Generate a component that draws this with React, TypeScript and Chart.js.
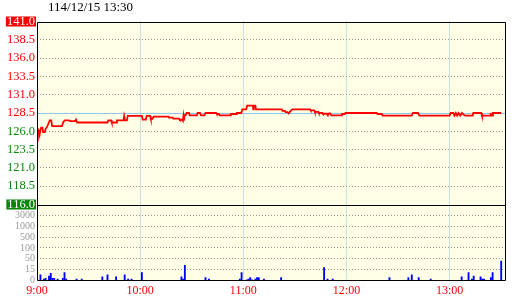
import React, { useEffect, useRef } from 'react';
import { Chart, registerables, LinearScale } from 'chart.js';

Chart.register(...registerables);

const TITLE = '114/12/15 13:30';
const FONT = '"Liberation Serif", "Times New Roman", serif';

const PRICE_MIN = 116;
const PRICE_MAX = 141;
const REF_PRICE = 128.5;
const PRICE_TICKS = [116, 118.5, 121, 123.5, 126, 128.5, 131, 133.5, 136, 138.5, 141];

const VOL_BREAKS = [0, 15, 50, 100, 500, 1000, 3000, 5000];
const VOL_TICKS = [0, 15, 50, 100, 500, 1000, 3000];
const VOL_TICK_LABELS = ['0', '15', '50', '100', '500', '1000', '3000'];

const TIME_MAX = 272.5;
const TIME_TICKS = [0, 60, 120, 180, 240];
const TIME_LABELS = ['9:00', '10:00', '11:00', '12:00', '13:00'];

// minutes after 9:00
const priceTimes = [
  0, 0.5, 1, 1.5, 2, 2.4, 3.2, 3.5, 4.5, 5, 5.8, 6.6, 7.4, 8.3, 8.8, 14.5, 15.2, 16.1, 18.6, 19.2,
  22.2, 22.7, 23.3, 41, 41.5, 43.1, 43.5, 46, 46.5, 50.3, 50.7, 51.2, 52.3, 52.8, 61, 61.5, 63.3, 63.8, 65.8, 66.2,
  67.2, 67.8, 76.5, 76.8, 79, 79.3, 82.6, 83, 84.4, 84.8, 85.2, 85.5, 85.9, 86.5, 87, 88.4, 88.8, 93, 93.4, 94.8,
  95.4, 97.4, 98, 104.2, 104.6, 105.8, 106.2, 112.3, 112.7, 115.8, 116.2, 118.8, 119.4, 121.7, 122.2, 125.6, 125.8, 126.1, 127, 127.4,
  142.4, 142.8, 144.2, 144.6, 145.6, 146.4, 147.4, 148.6, 158.8, 159.2, 161.3, 161.6, 163.6, 163.9, 166, 166.3, 168.6, 169.2, 169.8, 170.6,
  171.2, 177, 177.4, 179, 179.4, 197.6, 198, 200.6, 201, 218, 218.6, 221.6, 222.4, 240, 240.6, 242.2, 242.8, 243.6, 244.4, 245.2,
  246.2, 247.2, 248.2, 249.2, 253.4, 253.8, 258.4, 258.8, 263.6, 263.9, 264.2, 264.8, 265.2, 270,
];
const prices = [
  126.0, 125.5, 126.0, 125.5, 126.2, 126.5, 126.5, 125.9, 125.9, 126.3, 126.6, 127.0, 127.5, 127.5, 126.7, 126.7, 127.2, 127.5, 127.5, 127.4,
  127.4, 127.6, 127.2, 127.2, 127.5, 127.5, 127.2, 127.2, 127.5, 127.5, 128.1, 127.5, 127.5, 128.1, 128.1, 127.6, 127.6, 128.1, 128.1, 127.7,
  127.7, 128.0, 128.0, 127.86, 127.86, 127.72, 127.72, 127.58, 127.58, 127.45, 128.1, 127.45, 128.2, 128.2, 128.5, 128.5, 128.17, 128.17, 128.5, 128.5,
  128.17, 128.17, 128.5, 128.5, 128.36, 128.36, 128.17, 128.17, 128.36, 128.36, 128.5, 128.5, 129.0, 129.0, 129.5, 129.5, 129.0, 129.5, 129.5, 129.0,
  129.0, 128.8, 128.8, 128.62, 128.62, 128.45, 128.75, 129.0, 129.0, 128.85, 128.85, 128.65, 128.65, 128.5, 128.5, 128.4, 128.4, 128.17, 128.45, 128.45,
  128.17, 128.17, 128.36, 128.36, 128.5, 128.5, 128.36, 128.36, 128.15, 128.15, 128.5, 128.5, 128.15, 128.15, 128.5, 128.5, 128.15, 128.5, 128.15, 128.5,
  128.15, 128.5, 128.25, 128.15, 128.15, 128.5, 128.5, 128.15, 128.15, 128.5, 128.15, 128.15, 128.5, 128.5,
];

const volTimes = [
  0, 2, 4, 5, 7, 8, 9, 10, 12, 15, 16, 17, 23, 26, 38, 41, 46, 51, 53, 55,
  61, 84, 85, 86, 98, 100, 118, 119, 122, 123, 124, 125, 127, 128, 129, 132, 142, 167, 169, 172,
  205, 216, 218, 222, 229, 247, 251, 253, 254, 258, 259, 260, 264, 265, 270,
];
const volumes = [
  19, 8, 2, 3, 6, 10, 3, 3, 2, 3, 11, 2, 2, 2, 5, 8, 5, 8, 2, 2,
  11, 5, 2, 29, 4, 2, 2, 11, 1, 2, 4, 1, 2, 4, 4, 2, 4, 22, 2, 2,
  4, 4, 8, 4, 2, 5, 11, 2, 6, 5, 2, 2, 4, 11, 43,
];

const RED = '#ff0000';
const GREEN = '#0a860a';
const CREAM = '#ffffe6';

class BreakScale extends LinearScale {
  static id = 'breaks';
  static defaults = {};
  determineDataLimits() {
    this.min = VOL_BREAKS[0];
    this.max = VOL_BREAKS[VOL_BREAKS.length - 1];
  }
  buildTicks() {
    return VOL_TICKS.map((v) => ({ value: v }));
  }
  getPixelForValue(value: any) {
    if (value === null || value === undefined || isNaN(value)) return NaN;
    const n = VOL_BREAKS.length - 1;
    let i = 0;
    while (i < n - 1 && value > VOL_BREAKS[i + 1]) i++;
    let frac = (value - VOL_BREAKS[i]) / (VOL_BREAKS[i + 1] - VOL_BREAKS[i]);
    frac = Math.min(Math.max(frac, 0), 1);
    return (this as any).getPixelForDecimal((i + frac) / n);
  }
  getValueForPixel(pixel: number) {
    const n = VOL_BREAKS.length - 1;
    const d = (this as any).getDecimalForPixel(pixel) * n;
    const i = Math.min(Math.max(Math.floor(d), 0), n - 1);
    return VOL_BREAKS[i] + (d - i) * (VOL_BREAKS[i + 1] - VOL_BREAKS[i]);
  }
}
Chart.register(BreakScale as any);

const panelPlugin = {
  id: 'panels',
  beforeDraw(chart: any) {
    const { ctx, chartArea: a } = chart;
    ctx.save();
    ctx.fillStyle = '#ffffff';
    ctx.fillRect(0, 0, chart.width, chart.height);
    ctx.fillStyle = CREAM;
    ctx.fillRect(a.left, a.top, a.right - a.left, a.bottom - a.top);
    ctx.restore();
  },
  beforeDatasetsDraw(chart: any) {
    const { ctx, chartArea: a, scales } = chart;
    const y = Math.round(scales.y.getPixelForValue(REF_PRICE)) + 0.5;
    ctx.save();
    ctx.strokeStyle = '#8fc8ea';
    ctx.lineWidth = 1;
    ctx.beginPath();
    ctx.moveTo(a.left, y);
    ctx.lineTo(a.right, y);
    ctx.stroke();
    ctx.restore();
  },
  afterDatasetsDraw(chart: any) {
    const { ctx, chartArea: a, scales } = chart;
    const l = Math.round(a.left) + 0.5;
    const r = Math.round(a.right) - 0.5;
    const t = Math.round(a.top) + 0.5;
    const b = Math.round(a.bottom) - 0.5;
    const mid = Math.round(scales.y.getPixelForValue(PRICE_MIN)) + 0.5;
    ctx.save();
    ctx.strokeStyle = '#000000';
    ctx.lineWidth = 1;
    ctx.beginPath();
    ctx.moveTo(l, t); ctx.lineTo(r, t);
    ctx.moveTo(l, mid); ctx.lineTo(r, mid);
    ctx.moveTo(l, b); ctx.lineTo(r, b);
    ctx.moveTo(l, t); ctx.lineTo(l, b);
    ctx.moveTo(r, t); ctx.lineTo(r, b);
    ctx.stroke();
    ctx.fillStyle = '#000000';
    ctx.font = `13px ${FONT}`;
    ctx.textBaseline = 'middle';
    ctx.textAlign = 'left';
    ctx.fillText(TITLE, a.left + 11, 7.5);
    ctx.restore();
  },
};

export default function App() {
  const ref = useRef<HTMLCanvasElement | null>(null);
  useEffect(() => {
    if (!ref.current) return;
    const chart = new Chart(ref.current, {
      type: 'bar',
      data: {
        datasets: [
          {
            type: 'line',
            data: priceTimes.map((t, i) => ({ x: t, y: prices[i] })),
            xAxisID: 'x',
            yAxisID: 'y',
            borderColor: RED,
            borderWidth: 1.8,
            pointRadius: 0,
            tension: 0,
            fill: false,
          } as any,
          {
            type: 'bar',
            data: volTimes.map((t, i) => ({ x: t, y: volumes[i] })),
            xAxisID: 'x',
            yAxisID: 'y2',
            backgroundColor: '#0000ff',
            borderWidth: 0,
            barThickness: 1.2,
          } as any,
        ],
      },
      options: {
        animation: false,
        responsive: false,
        devicePixelRatio: 1,
        events: [],
        layout: { padding: { top: 21.5, right: 14.5, bottom: 0, left: 0 } },
        plugins: { legend: { display: false }, tooltip: { enabled: false }, title: { display: false } },
        scales: {
          x: {
            type: 'linear',
            offset: false,
            min: 0,
            max: TIME_MAX,
            afterBuildTicks: (s: any) => { s.ticks = TIME_TICKS.map((v) => ({ value: v })); },
            afterFit: (s: any) => { s.height = 19.5; },
            ticks: {
              autoSkip: false,
              maxRotation: 0,
              padding: 3,
              color: RED,
              font: { family: FONT, size: 12 },
              callback: (v: any) => TIME_LABELS[TIME_TICKS.indexOf(Number(v))] ?? '',
            },
            grid: {
              offset: false,
              drawTicks: false,
              lineWidth: 1,
              color: (c: any) => (c.tick && c.tick.value === 0 ? 'rgba(0,0,0,0)' : '#8fc3e6'),
            },
            border: { display: false, dash: [1, 1] },
          },
          y2: {
            type: 'breaks',
            position: 'left',
            stack: 'panel',
            stackWeight: 76,
            afterFit: (s: any) => { s.width = 37; },
            ticks: {
              autoSkip: false,
              padding: 2,
              color: '#9a9a9a',
              font: { family: FONT, size: 10 },
              callback: (v: any) => VOL_TICK_LABELS[VOL_TICKS.indexOf(Number(v))] ?? '',
            },
            grid: {
              drawTicks: false,
              lineWidth: 1,
              color: (c: any) => (c.tick && c.tick.value === 0 ? 'rgba(0,0,0,0)' : '#999999'),
            },
            border: { display: false, dash: [1, 2] },
          } as any,
          y: {
            type: 'linear',
            position: 'left',
            stack: 'panel',
            stackWeight: 183,
            min: PRICE_MIN,
            max: PRICE_MAX,
            afterBuildTicks: (s: any) => { s.ticks = PRICE_TICKS.map((v) => ({ value: v })); },
            afterFit: (s: any) => { s.width = 37; },
            ticks: {
              autoSkip: false,
              padding: 2,
              font: { family: FONT, size: 12.5, lineHeight: '10px' },
              callback: (v: any) => Number(v).toFixed(1),
              color: (c: any) => {
                const v = c.tick.value;
                if (v === PRICE_MIN || v === PRICE_MAX) return '#ffffff';
                return v >= REF_PRICE ? RED : GREEN;
              },
              showLabelBackdrop: (c: any) => c.tick.value === PRICE_MIN || c.tick.value === PRICE_MAX,
              backdropColor: (c: any) => (c.tick.value === PRICE_MAX ? RED : GREEN),
              backdropPadding: { left: 1, right: 1, top: 0, bottom: 0 },
            },
            grid: {
              drawTicks: false,
              lineWidth: 1,
              color: (c: any) => {
                const v = c.tick ? c.tick.value : null;
                return v === PRICE_MIN || v === PRICE_MAX || v === REF_PRICE ? 'rgba(0,0,0,0)' : '#999999';
              },
            },
            border: { display: false, dash: [1, 2] },
          },
        },
      } as any,
      plugins: [panelPlugin],
    });
    return () => chart.destroy();
  }, []);
  return (
    <div style={{ position: 'absolute', left: 0, top: 0, width: 520, height: 300 }}>
      <canvas ref={ref} width={520} height={300} style={{ display: 'block', width: 520, height: 300 }} />
    </div>
  );
}
